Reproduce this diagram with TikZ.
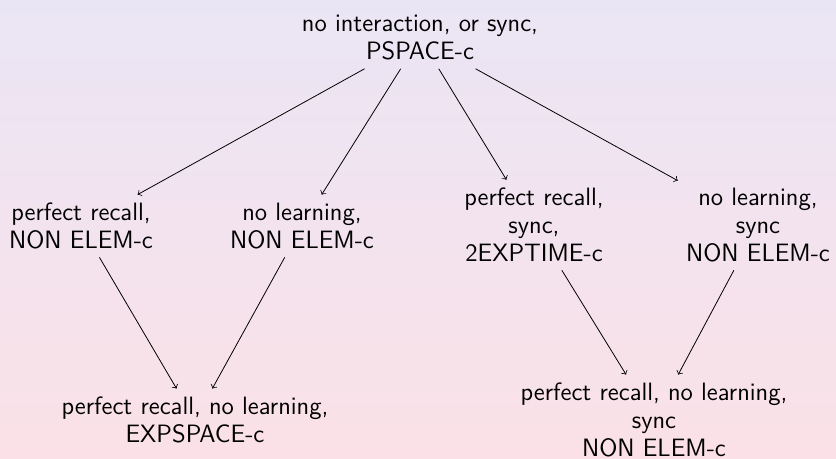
\documentclass[tikz,border=0pt]{standalone}
\begin{document}
\begin{tikzpicture}[x=0.5bp,y=-0.5bp,
  lbl/.style={align=center,font=\sffamily\fontsize{12.6}{14}\selectfont,inner sep=4pt},
  arr/.style={->,line width=0.4pt}]
\shade[top color={rgb,255:red,234;green,229;blue,245},bottom color={rgb,255:red,251;green,225;blue,231}] (0,0) rectangle (836,459);
\useasboundingbox (0,0) rectangle (836,459);
\node[lbl] (top) at (420,38) {no interaction, or sync,\\PSPACE-c};
\node[lbl] (l1) at (81,226) {perfect recall,\\NON ELEM-c};
\node[lbl] (l2) at (302,226) {no learning,\\NON ELEM-c};
\node[lbl] (r1) at (534,225) {perfect recall,\\sync,\\2EXPTIME-c};
\node[lbl] (r2) at (758,225) {no learning,\\sync\\NON ELEM-c};
\node[lbl] (bl) at (195,420) {perfect recall, no learning,\\EXPSPACE-c};
\node[lbl] (br) at (654,420) {perfect recall, no learning,\\sync\\NON ELEM-c};
\draw[arr] (top) -- (l1);
\draw[arr] (top) -- (l2);
\draw[arr] (top) -- (r1);
\draw[arr] (top) -- (r2);
\draw[arr] (l1) -- (bl);
\draw[arr] (l2) -- (bl);
\draw[arr] (r1) -- (br);
\draw[arr] (r2) -- (br);
\end{tikzpicture}
\end{document}
